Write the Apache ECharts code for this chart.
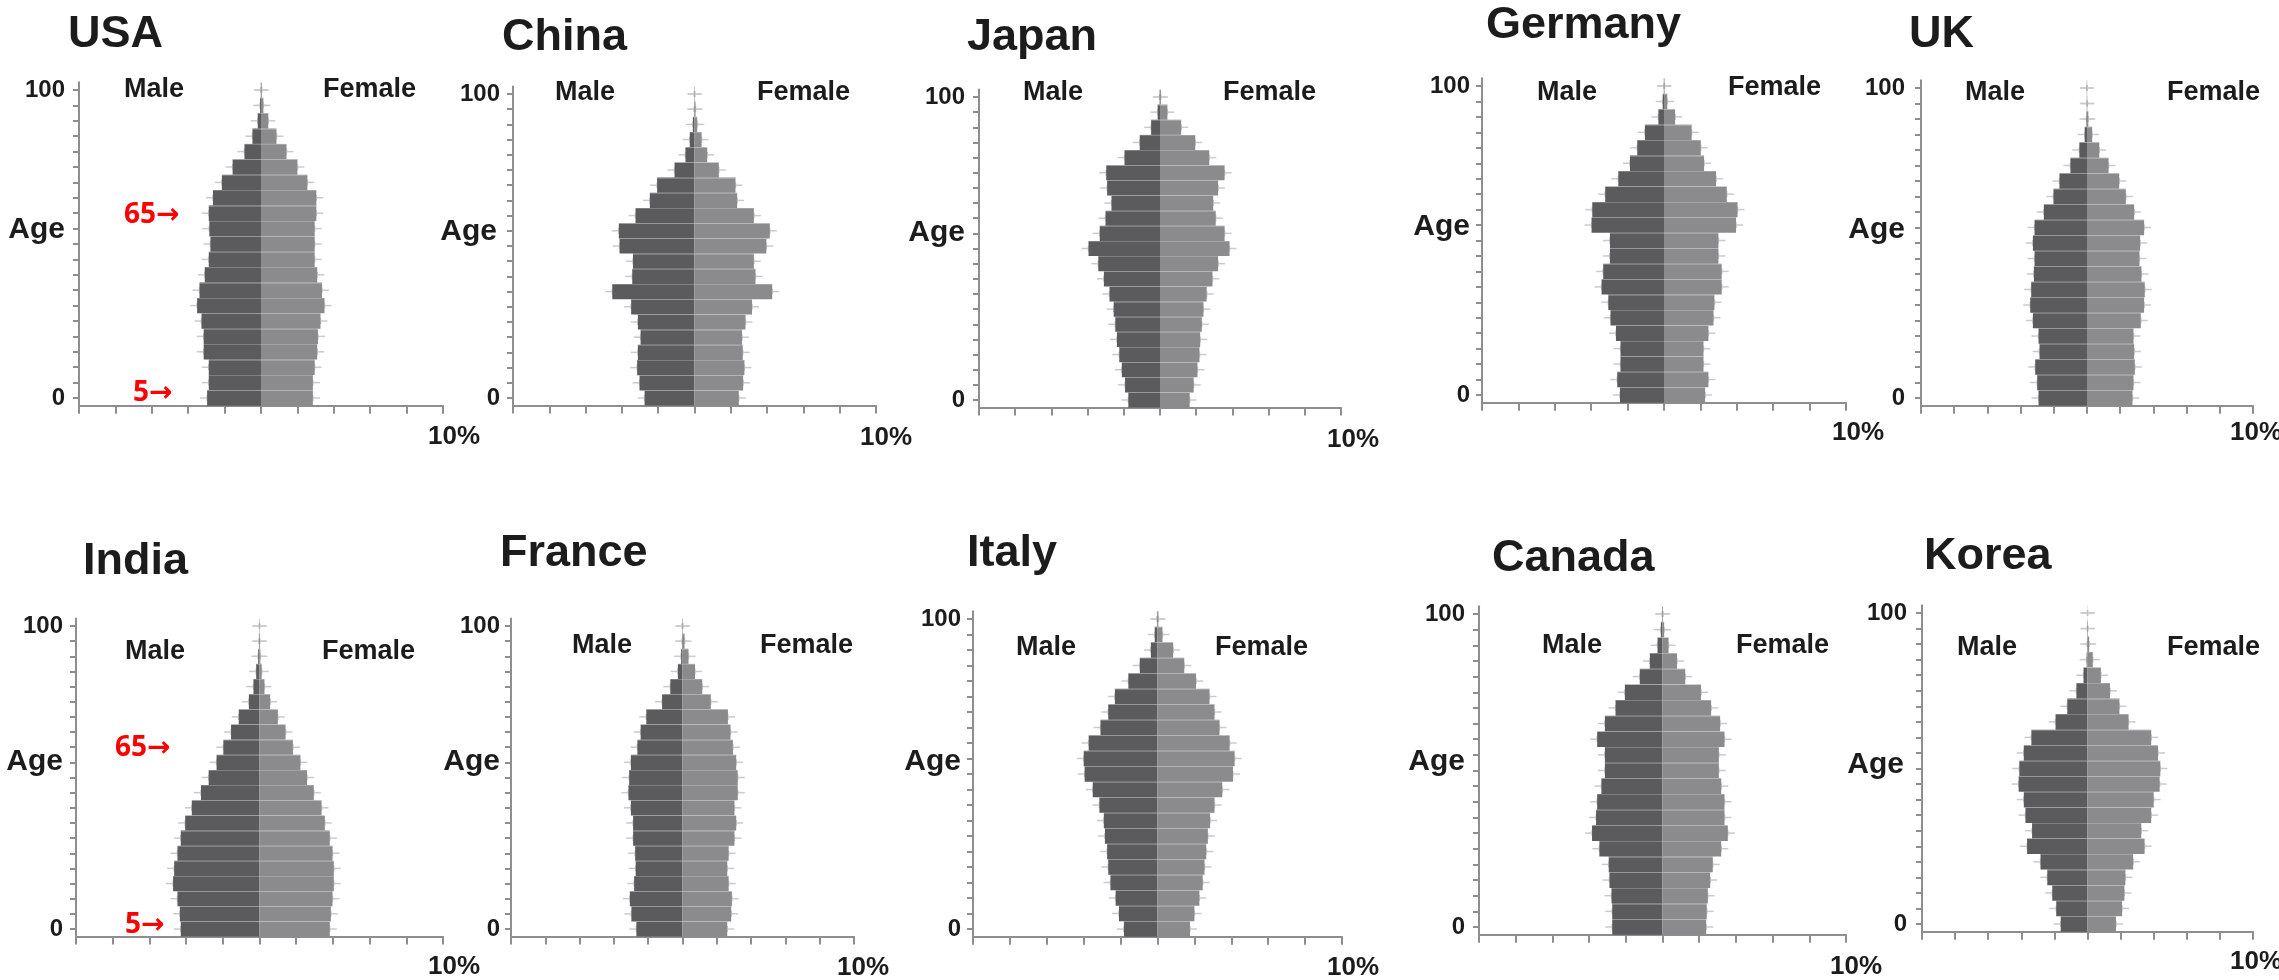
<!DOCTYPE html>
<html>
<head>
<meta charset="utf-8">
<title>Population pyramids</title>
<script src="https://cdn.jsdelivr.net/npm/echarts@6/dist/echarts.min.js"></script>
<style>
  html, body { margin: 0; padding: 0; background: #ffffff; }
  #chart { width: 2279px; height: 980px; }
</style>
</head>
<body>
<div id="chart"></div>
<script>
// Age groups (lower bound of each 5-year band), bottom to top
const ageGroups = ['0','5','10','15','20','25','30','35','40','45','50','55','60','65','70','75','80','85','90','95','100'];
// Age ticks that carry a label
const labelledAges = ['0', '100'];
// Label at the right end of each share axis
const shareAxisEnd = '10%';

// Share of population in each age band (%), male and female
const usaMale      = [2.96, 2.87, 2.87, 3.15, 3.15, 3.27, 3.51, 3.38, 3.09, 2.87, 2.78, 2.84, 2.87, 2.64, 2.15, 1.56, 0.91, 0.47, 0.18, 0.05, 0.01];
const usaFemale    = [2.85, 2.85, 2.95, 3.09, 3.13, 3.27, 3.49, 3.35, 3.09, 2.95, 2.95, 2.95, 3.04, 3.04, 2.55, 2.00, 1.40, 0.85, 0.40, 0.13, 0.04];
const chinaMale    = [2.75, 3.03, 3.16, 3.12, 2.97, 3.12, 3.49, 4.53, 3.43, 3.39, 4.13, 4.17, 3.25, 2.46, 2.06, 1.10, 0.50, 0.26, 0.09, 0.02, 0.01];
const chinaFemale  = [2.44, 2.68, 2.75, 2.66, 2.62, 2.81, 3.17, 4.28, 3.36, 3.27, 3.96, 4.15, 3.27, 2.35, 2.26, 1.34, 0.70, 0.39, 0.15, 0.06, 0.02];
const japanMale    = [1.75, 1.93, 2.11, 2.25, 2.38, 2.47, 2.56, 2.79, 3.10, 3.41, 3.95, 3.33, 3.01, 2.68, 2.92, 2.97, 1.96, 1.12, 0.49, 0.13, 0.02];
const japanFemale  = [1.64, 1.86, 2.07, 2.18, 2.22, 2.31, 2.40, 2.58, 2.90, 3.21, 3.84, 3.57, 3.08, 2.94, 3.21, 3.57, 2.72, 1.95, 1.17, 0.41, 0.05];
const germanyMale  = [2.42, 2.57, 2.39, 2.39, 2.64, 2.94, 3.06, 3.43, 3.34, 2.97, 2.97, 3.98, 3.94, 3.23, 2.51, 1.87, 1.47, 1.05, 0.31, 0.07, 0.01];
const germanyFemale= [2.26, 2.44, 2.17, 2.17, 2.44, 2.72, 2.77, 3.17, 3.17, 2.99, 2.99, 3.96, 4.04, 3.45, 2.86, 2.20, 2.02, 1.52, 0.61, 0.18, 0.03];
const ukMale       = [2.92, 3.00, 3.12, 2.86, 2.92, 3.26, 3.42, 3.36, 3.20, 3.16, 3.26, 3.16, 2.60, 2.02, 1.66, 1.00, 0.46, 0.14, 0.03, 0.01, 0.01];
const ukFemale     = [2.74, 2.80, 2.88, 2.84, 2.80, 3.24, 3.44, 3.48, 3.28, 3.16, 3.20, 3.44, 2.84, 2.34, 1.94, 1.30, 0.74, 0.31, 0.08, 0.02, 0.01];
const indiaMale    = [4.29, 4.34, 4.47, 4.71, 4.65, 4.47, 4.29, 4.05, 3.69, 3.19, 2.77, 2.34, 1.97, 1.55, 1.13, 0.58, 0.33, 0.18, 0.07, 0.03, 0.01];
const indiaFemale  = [3.83, 3.89, 3.98, 4.05, 4.05, 3.98, 3.83, 3.56, 3.38, 2.96, 2.59, 2.23, 1.82, 1.42, 1.00, 0.58, 0.27, 0.12, 0.05, 0.02, 0.01];
const franceMale   = [2.69, 2.98, 3.07, 2.82, 2.73, 2.76, 2.88, 2.88, 3.01, 3.15, 3.11, 3.01, 2.63, 2.44, 2.11, 1.19, 0.71, 0.27, 0.08, 0.03, 0.01];
const franceFemale = [2.61, 2.84, 2.88, 2.69, 2.61, 2.69, 3.03, 3.13, 3.03, 3.22, 3.22, 3.13, 2.94, 2.80, 2.65, 1.65, 1.15, 0.73, 0.35, 0.12, 0.02];
const italyMale    = [1.82, 2.09, 2.27, 2.55, 2.67, 2.73, 2.85, 2.91, 3.15, 3.51, 3.95, 4.00, 3.73, 3.09, 2.67, 2.31, 1.58, 0.96, 0.36, 0.15, 0.03];
const italyFemale  = [1.76, 2.00, 2.27, 2.45, 2.55, 2.64, 2.73, 2.85, 3.09, 3.51, 4.09, 4.18, 3.91, 3.36, 3.09, 2.82, 2.09, 1.45, 0.85, 0.27, 0.05];
const canadaMale   = [2.74, 2.74, 2.78, 2.89, 2.93, 3.44, 3.84, 3.62, 3.56, 3.33, 3.14, 3.14, 3.56, 3.14, 2.56, 2.05, 1.24, 0.69, 0.27, 0.09, 0.02];
const canadaFemale = [2.38, 2.41, 2.47, 2.60, 2.74, 3.20, 3.56, 3.38, 3.38, 3.20, 3.07, 3.07, 3.38, 3.14, 2.65, 2.10, 1.24, 0.79, 0.33, 0.09, 0.03];
const koreaMale    = [1.62, 1.89, 2.13, 2.43, 2.84, 3.65, 3.35, 3.75, 3.85, 4.16, 4.12, 3.85, 3.39, 1.93, 1.22, 0.67, 0.24, 0.05, 0.02, 0.01, 0.00];
const koreaFemale  = [1.72, 2.09, 2.23, 2.29, 2.76, 3.45, 3.25, 3.85, 4.00, 4.36, 4.40, 4.26, 3.85, 2.48, 1.93, 1.36, 0.81, 0.32, 0.10, 0.03, 0.01];

// Panel placement: plot box (axis x range, age-tick rows) and label anchors
const panels = [
  { name: 'USA',     male: usaMale,     female: usaFemale,     L: 79,   R: 443,  t100: 90,  t0: 398, gap: 14, title: [68, 35],    maleAt: [124, 90],   femaleAt: [323, 90],   ageAt: [65, 230],   pctAt: [428, 437],
    notes: [{ text: '65→', at: [124, 215] }, { text: '5→', at: [133, 393] }] },
  { name: 'China',   male: chinaMale,   female: chinaFemale,   L: 513,  R: 876,  t100: 94,  t0: 398, gap: 13, title: [502, 38],   maleAt: [555, 93],   femaleAt: [757, 93],   ageAt: [497, 232],  pctAt: [860, 438] },
  { name: 'Japan',   male: japanMale,   female: japanFemale,   L: 979,  R: 1341, t100: 97,  t0: 400, gap: 14, title: [967, 38],   maleAt: [1023, 93],  femaleAt: [1223, 93],  ageAt: [965, 233],  pctAt: [1327, 440] },
  { name: 'Germany', male: germanyMale, female: germanyFemale, L: 1482, R: 1846, t100: 86,  t0: 395, gap: 12, title: [1486, 26],  maleAt: [1537, 93],  femaleAt: [1728, 88],  ageAt: [1470, 227], pctAt: [1832, 433] },
  { name: 'UK',      male: ukMale,      female: ukFemale,      L: 1921, R: 2253, t100: 88,  t0: 398, gap: 16, title: [1909, 35],  maleAt: [1965, 93],  femaleAt: [2167, 93],  ageAt: [1905, 230], pctAt: [2230, 433] },
  { name: 'India',   male: indiaMale,   female: indiaFemale,   L: 76,   R: 443,  t100: 626, t0: 929, gap: 13, title: [83, 562],   maleAt: [125, 652],  femaleAt: [322, 652],  ageAt: [63, 762],   pctAt: [428, 967],
    notes: [{ text: '65→', at: [115, 748] }, { text: '5→', at: [125, 925] }] },
  { name: 'France',  male: franceMale,  female: franceFemale,  L: 511,  R: 854,  t100: 626, t0: 929, gap: 11, title: [500, 554],  maleAt: [572, 646],  femaleAt: [760, 646],  ageAt: [500, 762],  pctAt: [837, 968] },
  { name: 'Italy',   male: italyMale,   female: italyFemale,   L: 973,  R: 1342, t100: 619, t0: 929, gap: 12, title: [967, 554],  maleAt: [1016, 648], femaleAt: [1215, 648], ageAt: [961, 762],  pctAt: [1327, 968] },
  { name: 'Canada',  male: canadaMale,  female: canadaFemale,  L: 1479, R: 1846, t100: 614, t0: 927, gap: 14, title: [1492, 559], maleAt: [1542, 646], femaleAt: [1736, 646], ageAt: [1465, 762], pctAt: [1830, 967] },
  { name: 'Korea',   male: koreaMale,   female: koreaFemale,   L: 1922, R: 2253, t100: 613, t0: 924, gap: 15, title: [1924, 557], maleAt: [1957, 648], femaleAt: [2167, 648], ageAt: [1904, 765], pctAt: [2230, 962] }
];

const FONT = '"Liberation Sans", Arial, Helvetica, sans-serif';
const INK = '#1c1c1c';
const AXIS_GRAY = '#8e8e8e';
const MALE_GRAY = '#5b5b5d';
const FEMALE_GRAY = '#8b8b8d';

function label(text, at, size, align, color, family) {
  return {
    type: 'text', x: at[0], y: at[1], silent: true, z: 10,
    style: {
      text: text, fill: color || INK,
      font: 'bold ' + size + 'px ' + (family || FONT),
      align: align || 'left', verticalAlign: 'middle',
      textAlign: align || 'left', textVerticalAlign: 'middle'
    }
  };
}

// faint error whiskers at the outer end of each bar
function whiskerItem(params, api) {
  const i = api.value(0);
  const pm = api.coord([api.value(1), i]);
  const pf = api.coord([api.value(2), i]);
  const st = { stroke: '#cbcbcb', lineWidth: 1.5 };
  const h = 7, v = 3;
  const plus = (p) => [
    { type: 'line', shape: { x1: p[0] - h, y1: p[1], x2: p[0] + h, y2: p[1] }, style: st },
    { type: 'line', shape: { x1: p[0], y1: p[1] - v, x2: p[0], y2: p[1] + v }, style: st }
  ];
  return { type: 'group', children: plus(pm).concat(plus(pf)) };
}

// thin light seam between neighbouring age bands
function seamItem(params, api) {
  const i = api.value(0);
  const band = api.size([0, 1])[1];
  const pm = api.coord([api.value(1), i]);
  const pf = api.coord([api.value(2), i]);
  const y = Math.round(pm[1] - band / 2) + 0.5;
  return {
    type: 'line',
    shape: { x1: pm[0], y1: y, x2: pf[0], y2: y },
    style: { stroke: 'rgba(255,255,255,0.22)', lineWidth: 1 }
  };
}

const grids = [], xAxes = [], yAxes = [], series = [], graphics = [];

panels.forEach((p, k) => {
  const band = (p.t0 - p.t100) / (ageGroups.length - 1);
  grids.push({
    left: p.L, top: p.t100 - band / 2,
    width: p.R - p.L, height: band * ageGroups.length,
    containLabel: false
  });
  xAxes.push({
    gridIndex: k, type: 'value', min: -10, max: 10, interval: 2,
    axisLine: { show: true, onZero: false, lineStyle: { color: AXIS_GRAY, width: 2 } },
    axisTick: { show: true, length: 8, lineStyle: { color: AXIS_GRAY, width: 2 } },
    axisLabel: { show: false },
    splitLine: { show: false }
  });
  yAxes.push({
    gridIndex: k, type: 'category', data: ageGroups, boundaryGap: true,
    axisLine: { show: true, onZero: false, lineStyle: { color: AXIS_GRAY, width: 2 } },
    axisTick: { show: true, alignWithLabel: true, interval: 0, length: 6, lineStyle: { color: AXIS_GRAY, width: 2 } },
    axisLabel: {
      interval: 0, margin: p.gap,
      formatter: (v) => (labelledAges.indexOf(v) >= 0 ? v : ''),
      fontSize: 24, fontWeight: 'bold', fontFamily: FONT, color: INK
    },
    splitLine: { show: false }
  });

  const rows = ageGroups.map((a, i) => [i, -p.male[i], p.female[i]]);

  series.push({
    type: 'custom', xAxisIndex: k, yAxisIndex: k, z: 1, silent: true,
    renderItem: whiskerItem, data: rows, encode: { x: [1, 2], y: 0 }
  });
  series.push({
    type: 'bar', name: 'Male', xAxisIndex: k, yAxisIndex: k, stack: 'pyr' + k, z: 2, silent: true,
    barCategoryGap: '0%', data: p.male.map((v) => -v),
    itemStyle: { color: MALE_GRAY }
  });
  series.push({
    type: 'bar', name: 'Female', xAxisIndex: k, yAxisIndex: k, stack: 'pyr' + k, z: 2, silent: true,
    barCategoryGap: '0%', data: p.female.slice(),
    itemStyle: { color: FEMALE_GRAY }
  });
  series.push({
    type: 'custom', xAxisIndex: k, yAxisIndex: k, z: 3, silent: true,
    renderItem: seamItem, data: rows, encode: { x: [1, 2], y: 0 }
  });

  graphics.push(label(p.name, p.title, 45, 'left'));
  graphics.push(label('Male', p.maleAt, 27, 'left'));
  graphics.push(label('Female', p.femaleAt, 27, 'left'));
  graphics.push(label('Age', p.ageAt, 30, 'right'));
  graphics.push(label(shareAxisEnd, p.pctAt, 26, 'left'));
  (p.notes || []).forEach((n) => {
    graphics.push(label(n.text, n.at, 28, 'left', '#ff0000', '"Noto Sans", "DejaVu Sans", sans-serif'));
  });
});

const chart = echarts.init(document.getElementById('chart'), null, { renderer: 'canvas' });
chart.setOption({
  animation: false,
  backgroundColor: '#ffffff',
  grid: grids,
  xAxis: xAxes,
  yAxis: yAxes,
  series: series,
  graphic: graphics
});
</script>
</body>
</html>
